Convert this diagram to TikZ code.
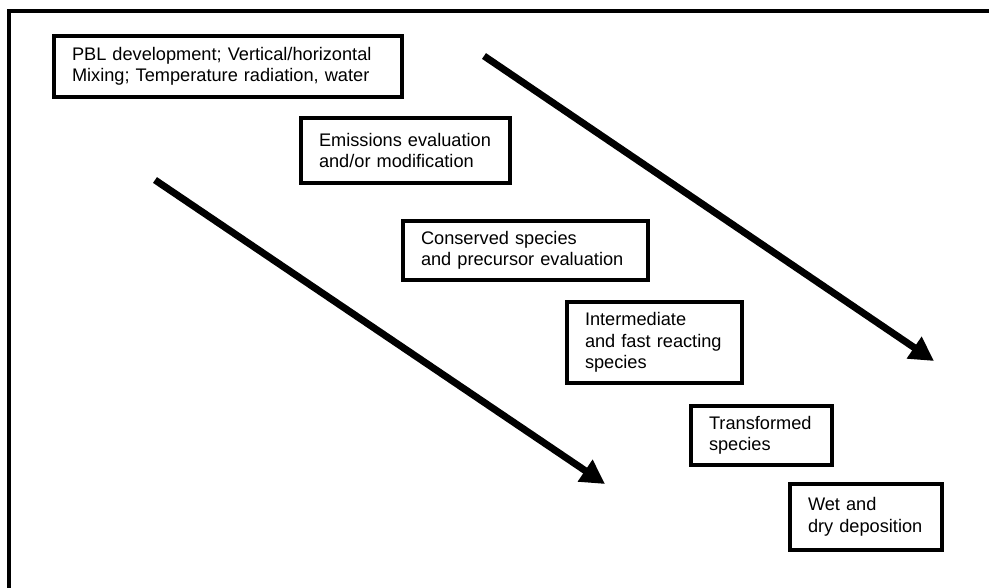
\documentclass[tikz,border=0pt]{standalone}
\usepackage{fontspec}
\setmainfont{Liberation Sans}
\usetikzlibrary{arrows.meta}
\hyphenpenalty=10000

\begin{document}
\begin{tikzpicture}[x=1pt,y=-1pt,
    stage/.style={draw,line width=4pt,anchor=north west,align=left,
      inner xsep=18pt,inner ysep=0pt,
      font=\fontsize{18.2}{21.5}\selectfont},
    flow/.style={line width=7pt,-{Triangle[length=24pt,width=25pt]}}]
  \useasboundingbox (0,0) rectangle (989,587);
  \clip (0,0) rectangle (989,587);
  \draw[line width=4pt] (9,10.5) rectangle (1000,600);

  \node[stage,text width=312pt,minimum height=61pt] (pbl) at (52,34)
    {PBL development; Vertical/horizontal\\Mixing; Temperature radiation, water};
  \node[stage,text width=173pt,minimum height=65pt] (emis) at (299,116)
    {Emissions evaluation\\and/or modification};
  \node[stage,text width=209pt,minimum height=59pt] (cons) at (401,219)
    {Conserved species\\and precursor evaluation};
  \node[stage,text width=139pt,minimum height=81pt] (inter) at (565,300)
    {Intermediate\\and fast reacting\\species};
  \node[stage,text width=105pt,minimum height=59pt] (trans) at (689,404)
    {Transformed\\species};
  \node[stage,text width=116pt,minimum height=66pt] (depo) at (788,482)
    {Wet and\\dry deposition};
%
  \coordinate (rightStart) at (484,56);
  \coordinate (rightEnd)   at (934,361);
  \coordinate (leftStart)  at (155,180);
  \coordinate (leftEnd)    at (605,484);
  \draw[flow] (rightStart) -- (rightEnd);
  \draw[flow] (leftStart) -- (leftEnd);
\end{tikzpicture}
\end{document}
